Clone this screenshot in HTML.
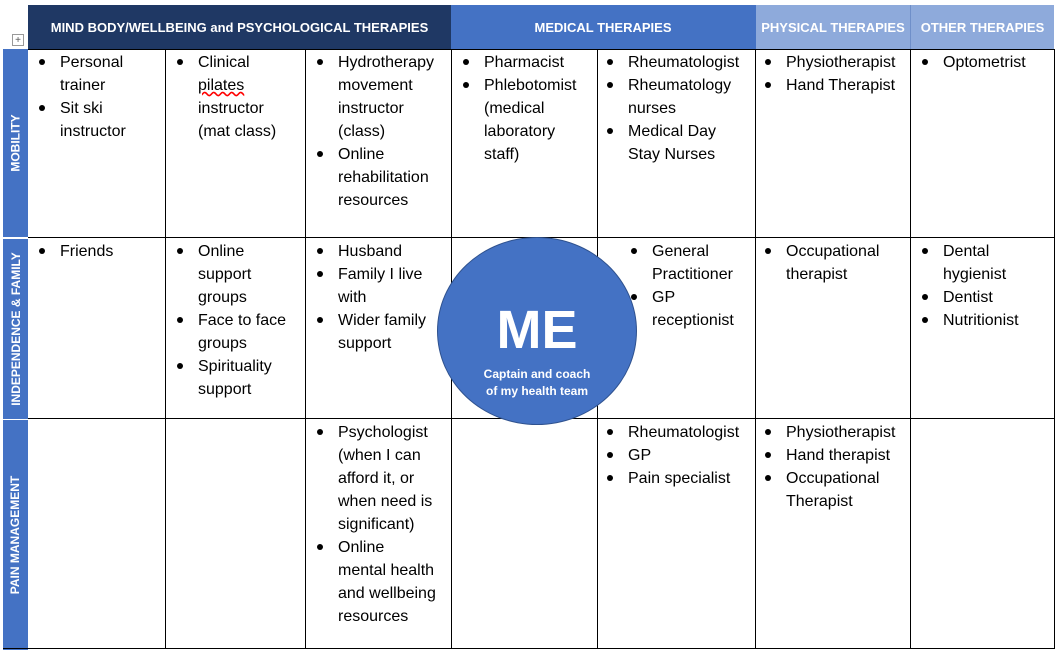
<!DOCTYPE html>
<html><head><meta charset="utf-8"><style>
body{margin:0;width:1059px;height:656px;background:#fff;position:relative;overflow:hidden;font-family:"Liberation Sans",sans-serif}
.a{position:absolute;box-sizing:border-box}
.h{color:#fff;font-weight:bold;font-size:13px;display:flex;align-items:center;justify-content:center;height:44px;top:5px}
.v{position:absolute;background:#000;width:1px}
.hl{position:absolute;background:#000;height:1px}
.rl{position:absolute;left:3px;width:25px;background:#4472C4;display:flex;align-items:center;justify-content:center}
.rl span{transform:rotate(-90deg);white-space:nowrap;color:#fff;font-weight:bold;font-size:12px}
ul{position:absolute;margin:0;padding:0;list-style:none;font-size:16px;line-height:23px;color:#000;white-space:nowrap}
li{position:relative}
li::before{content:"";position:absolute;left:-21px;top:8px;width:6px;height:6px;border-radius:50%;background:#000}
</style></head><body>
<div class="a h" style="left:28px;width:423px;background:#1F3864">MIND BODY/WELLBEING and PSYCHOLOGICAL THERAPIES</div>
<div class="a h" style="left:451px;width:304px;background:#4472C4">MEDICAL THERAPIES</div>
<div class="a h" style="left:755px;width:155px;background:#8EAADB;border-left:1px solid #4472C4">PHYSICAL THERAPIES</div>
<div class="a h" style="left:910px;width:144px;background:#8EAADB;border-left:1px solid #6f8fc9">OTHER THERAPIES</div>
<div class="a" style="left:12px;top:34px;width:12px;height:12px;border:1px solid #999;font-size:10px;line-height:11px;text-align:center;color:#555">+</div>

<div class="rl" style="top:49px;height:188px"><span>MOBILITY</span></div>
<div class="rl" style="top:238px;height:180px;border-top:1px solid #fff"><span>INDEPENDENCE &amp; FAMILY</span></div>
<div class="rl" style="top:419px;height:230px;border-top:1px solid #fff"><span>PAIN MANAGEMENT</span></div>

<div class="hl" style="left:28px;width:1026px;top:49px"></div>
<div class="hl" style="left:28px;width:1026px;top:237px"></div>
<div class="hl" style="left:28px;width:1026px;top:418px"></div>
<div class="hl" style="left:3px;width:1051px;top:648px"></div>
<div class="v" style="left:165px;top:49px;height:600px"></div>
<div class="v" style="left:305px;top:49px;height:600px"></div>
<div class="v" style="left:451px;top:49px;height:600px"></div>
<div class="v" style="left:597px;top:49px;height:600px"></div>
<div class="v" style="left:755px;top:49px;height:600px"></div>
<div class="v" style="left:910px;top:49px;height:600px"></div>
<div class="v" style="left:1054px;top:49px;height:600px"></div>

<ul style="left:60px;top:51px"><li>Personal<br>trainer</li><li>Sit ski<br>instructor</li></ul>
<ul style="left:198px;top:51px"><li>Clinical<br><span style="text-decoration:underline wavy red">pilates</span><br>instructor<br>(mat class)</li></ul>
<ul style="left:338px;top:51px"><li>Hydrotherapy<br>movement<br>instructor<br>(class)</li><li>Online<br>rehabilitation<br>resources</li></ul>
<ul style="left:484px;top:51px"><li>Pharmacist</li><li>Phlebotomist<br>(medical<br>laboratory<br>staff)</li></ul>
<ul style="left:628px;top:51px"><li>Rheumatologist</li><li>Rheumatology<br>nurses</li><li>Medical Day<br>Stay Nurses</li></ul>
<ul style="left:786px;top:51px"><li>Physiotherapist</li><li>Hand Therapist</li></ul>
<ul style="left:943px;top:51px"><li>Optometrist</li></ul>

<ul style="left:60px;top:240px"><li>Friends</li></ul>
<ul style="left:198px;top:240px"><li>Online<br>support<br>groups</li><li>Face to face<br>groups</li><li>Spirituality<br>support</li></ul>
<ul style="left:338px;top:240px"><li>Husband</li><li>Family I live<br>with</li><li>Wider family<br>support</li></ul>
<ul style="left:652px;top:240px"><li>General<br>Practitioner</li><li>GP<br>receptionist</li></ul>
<ul style="left:786px;top:240px"><li>Occupational<br>therapist</li></ul>
<ul style="left:943px;top:240px"><li>Dental<br>hygienist</li><li>Dentist</li><li>Nutritionist</li></ul>

<ul style="left:338px;top:421px"><li>Psychologist<br>(when I can<br>afford it, or<br>when need is<br>significant)</li><li>Online<br>mental health<br>and wellbeing<br>resources</li></ul>
<ul style="left:628px;top:421px"><li>Rheumatologist</li><li>GP</li><li>Pain specialist</li></ul>
<ul style="left:786px;top:421px"><li>Physiotherapist</li><li>Hand therapist</li><li>Occupational<br>Therapist</li></ul>

<div class="a" style="left:437px;top:237px;width:200px;height:188px;border-radius:50%;background:#4472C4;border:1.5px solid #2F528F;color:#fff;text-align:center">
<div style="font-weight:bold;font-size:54px;line-height:60px;margin-top:62px">ME</div>
<div style="font-weight:bold;font-size:12px;line-height:17px;margin-top:6px">Captain and coach<br>of my health team</div>
</div>
</body></html>
